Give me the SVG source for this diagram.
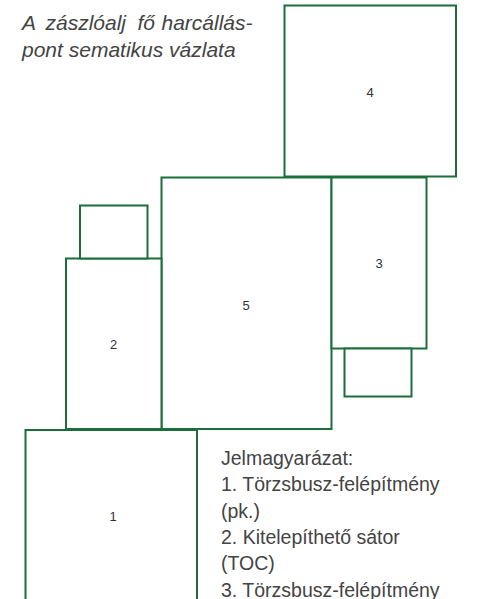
<svg xmlns="http://www.w3.org/2000/svg" width="490" height="599" viewBox="0 0 490 599">
<style>
.box{fill:#fff;stroke:#1b6e3b;stroke-width:2}
.num{font-family:"Liberation Sans",Arial,sans-serif;font-size:13px;fill:#333;text-anchor:middle}
.title{font-family:"Liberation Sans",Arial,sans-serif;font-size:21px;font-style:italic;fill:#444}
.legend{font-family:"Liberation Sans",Arial,sans-serif;font-size:19.5px;fill:#444}
</style>
<rect width="490" height="599" fill="#fff"/>
<text class="title"><tspan x="22" y="30">A</tspan><tspan x="45.5" y="30">zászlóalj</tspan><tspan x="137.5" y="30">fő</tspan><tspan x="161.5" y="30">harcállás-</tspan><tspan x="22" y="57">pont sematikus vázlata</tspan></text>
<g id="connectors"/>
<g id="n4"><rect class="box" x="284.5" y="5.5" width="171.5" height="171"/><text class="num" x="370" y="97">4</text></g>
<g id="n5"><rect class="box" x="161.5" y="177.5" width="170" height="251.5"/><text class="num" x="246" y="309.5">5</text></g>
<g id="n3"><rect class="box" x="331.5" y="177.5" width="95" height="171"/><text class="num" x="379" y="268">3</text></g>
<g id="n3b"><rect class="box" x="344.5" y="348.5" width="67" height="48"/></g>
<g id="n2"><rect class="box" x="66" y="258.5" width="95.5" height="170.5"/><text class="num" x="113.5" y="348.5">2</text></g>
<g id="n2b"><rect class="box" x="80" y="205.5" width="67.5" height="53"/></g>
<g id="n1"><rect class="box" x="25.5" y="430" width="171.5" height="180"/><text class="num" x="113" y="521">1</text></g>
<text class="legend"><tspan x="221" y="464.5">Jelmagyarázat:</tspan><tspan x="221" y="491">1. Törzsbusz-felépítmény</tspan><tspan x="221" y="517.5">(pk.)</tspan><tspan x="221" y="544">2. Kitelepíthető sátor</tspan><tspan x="221" y="570">(TOC)</tspan><tspan x="221" y="596.5">3. Törzsbusz-felépítmény</tspan></text>
</svg>
